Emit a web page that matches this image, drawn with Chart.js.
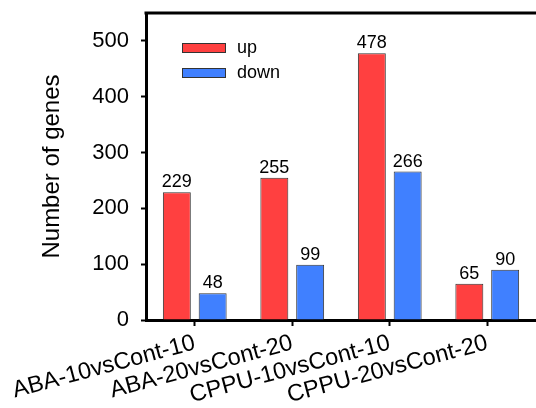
<!DOCTYPE html>
<html>
<head>
<meta charset="utf-8">
<script src="https://cdn.jsdelivr.net/npm/chart.js@4/dist/chart.umd.min.js"></script>
<style>
html,body{margin:0;padding:0;background:#fff;}
#wrap{width:536px;height:408px;position:relative;}
</style>
</head>
<body>
<div id="wrap"><canvas id="c" width="536" height="408"></canvas></div>
<script>
const categories = ["ABA-10vsCont-10", "ABA-20vsCont-20", "CPPU-10vsCont-10", "CPPU-20vsCont-20"];
const upValues = [229, 255, 478, 65];
const downValues = [48, 99, 266, 90];
const seriesNames = ["up", "down"];
const yTicks = [0, 100, 200, 300, 400, 500];

const FONT = "'Liberation Sans', Arial, sans-serif";
const RED = "#FF4040";
const BLUE = "#4080FF";
const EDGE = "#333333";

const valueLabels = {
  id: 'valueLabels',
  afterDatasetsDraw(chart) {
    const ctx = chart.ctx;
    ctx.save();
    ctx.font = "18px " + FONT;
    ctx.fillStyle = "#000";
    ctx.textAlign = "center";
    ctx.textBaseline = "alphabetic";
    chart.data.datasets.forEach((ds, i) => {
      chart.getDatasetMeta(i).data.forEach((bar, j) => {
        ctx.fillText(String(ds.data[j]), bar.x, bar.y - 5);
      });
    });
    ctx.restore();
  }
};

const insideLegend = {
  id: 'insideLegend',
  afterDraw(chart) {
    const ctx = chart.ctx;
    const a = chart.chartArea;
    ctx.save();
    ctx.font = "18px " + FONT;
    ctx.textBaseline = "middle";
    chart.data.datasets.forEach((ds, i) => {
      const x = a.left + 36, y = a.top + 30 + i * 25;
      ctx.fillStyle = ds.backgroundColor;
      ctx.fillRect(x, y, 44, 10);
      ctx.strokeStyle = EDGE;
      ctx.lineWidth = 1;
      ctx.strokeRect(x + 0.5, y + 0.5, 43, 9);
      ctx.fillStyle = "#000";
      ctx.fillText(ds.label, x + 55, y + 5);
    });
    ctx.restore();
  }
};

const topFrame = {
  id: 'topFrame',
  afterDraw(chart) {
    const ctx = chart.ctx;
    const a = chart.chartArea;
    ctx.save();
    ctx.strokeStyle = "#000";
    ctx.lineWidth = 3;
    ctx.beginPath();
    ctx.moveTo(a.left - 1.5, a.top);
    ctx.lineTo(a.right + 2, a.top);
    ctx.stroke();
    ctx.restore();
  }
};

new Chart(document.getElementById('c'), {
  type: 'bar',
  data: {
    labels: categories,
    datasets: [
      { label: seriesNames[0], data: upValues, backgroundColor: RED, borderColor: EDGE, borderWidth: 1 },
      { label: seriesNames[1], data: downValues, backgroundColor: BLUE, borderColor: EDGE, borderWidth: 1 }
    ]
  },
  options: {
    responsive: false,
    animation: false,
    devicePixelRatio: 1,
    layout: { padding: { left: 0, top: 13, right: 0, bottom: 0 } },
    datasets: { bar: { categoryPercentage: 0.735, barPercentage: 0.78 } },
    plugins: { legend: { display: false }, tooltip: { enabled: false } },
    scales: {
      x: {
        grid: { offset: false, drawOnChartArea: false, drawTicks: true, tickLength: 6, tickWidth: 2, tickColor: "#000" },
        border: { display: true, color: "#000", width: 3 },
        ticks: {
          font: { family: FONT, size: 23.5 }, color: "#000",
          minRotation: 15, maxRotation: 15, autoSkip: false, padding: 3
        },
        afterFit(s) { s.height = 88; s.paddingLeft = 0; s.paddingRight = 0; }
      },
      y: {
        min: 0, max: 550,
        grid: { drawOnChartArea: false, drawTicks: true, tickLength: 5, tickWidth: 2, tickColor: "#000" },
        border: { display: true, color: "#000", width: 3 },
        afterBuildTicks(s) { s.ticks = yTicks.map(v => ({ value: v })); },
        ticks: { font: { family: FONT, size: 22 }, color: "#000", padding: 12 },
        title: { display: true, text: "Number of genes", font: { family: FONT, size: 24 }, color: "#000", padding: { top: 38, bottom: 0 } },
        afterFit(s) { s.width = 146; s.paddingTop = 0; s.paddingBottom = 0; }
      }
    }
  },
  plugins: [valueLabels, insideLegend, topFrame]
});
</script>
</body>
</html>
